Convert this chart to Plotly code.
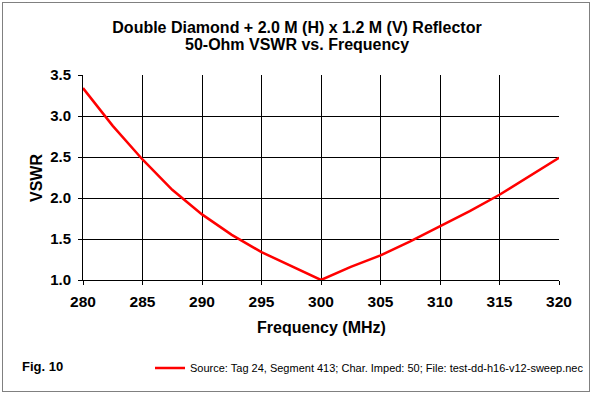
import plotly.graph_objects as go

freq_mhz = [280, 282.5, 285, 287.5, 290, 292.5, 295, 297.5, 300,
            302.5, 305, 307.5, 310, 312.5, 315, 317.5, 320]
vswr = [3.34, 2.88, 2.47, 2.10, 1.80, 1.55, 1.34, 1.17, 1.00,
        1.16, 1.30, 1.47, 1.65, 1.84, 2.04, 2.26, 2.49]
x_ticks = [280, 285, 290, 295, 300, 305, 310, 315, 320]
y_ticks = [1.0, 1.5, 2.0, 2.5, 3.0, 3.5]

series_name = "Source: Tag 24, Segment 413; Char. Imped: 50; File: test-dd-h16-v12-sweep.nec"
title_line1 = "Double Diamond + 2.0 M (H) x 1.2 M (V) Reflector"
title_line2 = "50-Ohm VSWR vs. Frequency"
x_title = "Frequency (MHz)"
y_title = "VSWR"
fig_label = "Fig. 10"

FONT = "Liberation Sans, Arial, sans-serif"
W, H = 592, 394
L, R, T, B = 83, 33, 75, 114
pw, ph = W - L - R, H - T - B


def px_x(x):
    return (x - L) / pw


def px_y(y):
    return (T + ph - y) / ph


fig = go.Figure()
fig.add_trace(go.Scatter(x=freq_mhz, y=vswr, mode="lines", name=series_name,
                         line=dict(color="#ff0000", width=2.5)))

axis_common = dict(showgrid=True, gridcolor="black", gridwidth=1,
                   showline=True, linecolor="black", linewidth=1,
                   ticks="outside", ticklen=4, tickcolor="black", tickwidth=1,
                   automargin=False, zeroline=False)

fig.update_layout(
    width=W, height=H,
    margin=dict(l=L, r=R, t=T, b=B, autoexpand=False),
    paper_bgcolor="white", plot_bgcolor="white",
    font=dict(family=FONT, color="black"),
    title=dict(text="<b>%s</b>" % title_line1,
               x=297 / W, xanchor="center", xref="container",
               y=1 - 27 / H, yanchor="middle", yref="container",
               font=dict(size=16, family=FONT)),
    showlegend=True,
    legend=dict(xref="container", yref="container",
                x=150 / W, y=1 - 368 / H, xanchor="left", yanchor="middle",
                font=dict(size=11, family=FONT), bgcolor="rgba(0,0,0,0)",
                itemwidth=30, tracegroupgap=0),
    xaxis=dict(range=[280, 320], tickvals=x_ticks,
               ticktext=["<b>%d</b>" % v for v in x_ticks],
               tickfont=dict(size=15.5, family=FONT), ticklabelstandoff=3, **axis_common),
    yaxis=dict(range=[1.0, 3.5], tickvals=y_ticks,
               ticktext=["<b>%.1f</b>" % v for v in y_ticks],
               tickfont=dict(size=15, family=FONT), ticklabelstandoff=4, **axis_common),
)

# second title line
fig.add_annotation(text="<b>%s</b>" % title_line2, xref="paper", yref="paper",
                   x=px_x(297), y=px_y(44), xanchor="center", yanchor="middle",
                   showarrow=False, font=dict(size=16, family=FONT))

# axis titles
fig.add_annotation(text="<b>%s</b>" % x_title, xref="paper", yref="paper",
                   x=px_x(321.5), y=px_y(327), xanchor="center", yanchor="middle",
                   showarrow=False, font=dict(size=16, family=FONT))
fig.add_annotation(text="<b>%s</b>" % y_title, xref="paper", yref="paper",
                   x=px_x(36), y=px_y(178), xanchor="center", yanchor="middle",
                   textangle=-90, showarrow=False, font=dict(size=16, family=FONT))

# Fig. label
fig.add_annotation(text="<b>%s</b>" % fig_label, xref="paper", yref="paper",
                   x=px_x(20), y=px_y(366), xanchor="left", yanchor="middle",
                   showarrow=False, font=dict(size=13, family=FONT))

# dotted outer border
fig.add_shape(type="rect", xref="paper", yref="paper",
              x0=px_x(2.5), x1=px_x(589.5), y0=px_y(391.5), y1=px_y(2.5),
              line=dict(color="black", width=1, dash="1px,1px"))

fig.write_html("out.html", config={"displayModeBar": False},
               post_script="document.body.style.margin='0';document.body.style.overflow='hidden';")
